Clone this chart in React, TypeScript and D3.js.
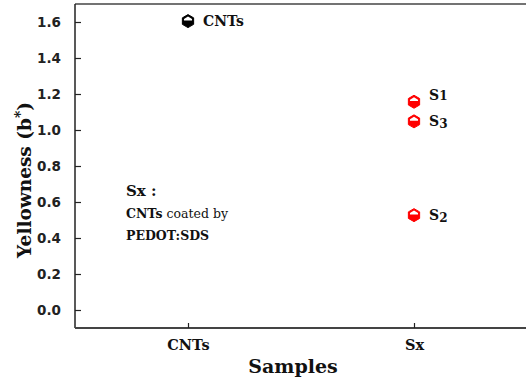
import React, { useRef, useEffect } from "react";
import * as d3 from "d3";

const CATEGORIES = ["CNTs", "Sx"];
const SAMPLE_LABELS = ["CNTs", "S1", "S3", "S2"];
const SAMPLE_CAT = ["CNTs", "Sx", "Sx", "Sx"];
const SAMPLE_VALUES = [1.605, 1.157, 1.048, 0.527];
const SAMPLE_COLORS = ["#000000", "#ff0000", "#ff0000", "#ff0000"];
const Y_TICKS = [0, 0.2, 0.4, 0.6, 0.8, 1.0, 1.2, 1.4, 1.6];

const SERIF = "'DejaVu Serif', 'Liberation Serif', serif";
const SANS = "'DejaVu Sans', sans-serif";

const App: React.FC = () => {
  const svgRef = useRef<SVGSVGElement | null>(null);

  useEffect(() => {
    if (!svgRef.current) return;
    const w = 526;
    const h = 380;
    const svg = d3.select(svgRef.current);
    svg.selectAll("*").remove();
    svg.attr("width", w).attr("height", h);

    const x = d3.scaleLinear().domain([0.5, 2.5]).range([75, 527]);
    const y = d3.scaleLinear().domain([-0.1, 1.7]).range([328, 4]);
    const xPos = (c: string) => x(CATEGORIES.indexOf(c) + 1);

    /* 框线 */
    svg.append("line")
      .attr("x1", 75).attr("x2", 527).attr("y1", y(1.7)).attr("y2", y(1.7))
      .attr("stroke", "#444").attr("stroke-width", 1.5);

    /* Y 轴 */
    const yAxis = d3.axisLeft(y).tickValues(Y_TICKS).tickSize(-6).tickPadding(10)
      .tickFormat((v) => d3.format(".1f")(v as number));
    svg.append("g")
      .attr("transform", `translate(75,0)`)
      .call(yAxis)
      .call((g) => g.select(".domain").attr("stroke", "#222").attr("stroke-width", 1.5)
        .attr("d", `M0,${y(1.7)}V${y(-0.1)}`))
      .call((g) => g.selectAll(".tick line").attr("stroke", "#222").attr("stroke-width", 1.2))
      .call((g) => g.selectAll(".tick text")
        .attr("fill", "#222").attr("font-family", SANS).attr("font-weight", "bold")
        .attr("font-size", "13.5px").attr("x", -14));

    /* X 轴 */
    const xAxis = d3.axisBottom(x).tickValues([1, 2]).tickSize(-5).tickPadding(10)
      .tickFormat((v) => CATEGORIES[(v as number) - 1]);
    svg.append("g")
      .attr("transform", `translate(0,${y(-0.1)})`)
      .call(xAxis)
      .call((g) => g.select(".domain").attr("stroke", "#444").attr("stroke-width", 2)
        .attr("d", `M75,0H527`))
      .call((g) => g.selectAll(".tick line").attr("stroke", "#222").attr("stroke-width", 1.2))
      .call((g) => g.selectAll(".tick text")
        .attr("fill", "#111").attr("font-family", SERIF).attr("font-weight", "bold")
        .attr("font-size", "14.5px").attr("dy", "0.85em"));

    /* 点 */
    const r = 6.5;
    const hex = d3.range(6).map((i) => {
      const a = (Math.PI / 3) * i - Math.PI / 2;
      return [r * Math.cos(a), r * Math.sin(a)];
    });
    const cap = `M${-r * 0.62},${-r * 0.1} L${-r * 0.62},${-r * 0.32} L0,${-r * 0.7} L${r * 0.62},${-r * 0.32} L${r * 0.62},${-r * 0.1} Z`;
    const pts = svg.append("g");
    SAMPLE_VALUES.forEach((v, i) => {
      const gx = pts.append("g")
        .attr("transform", `translate(${xPos(SAMPLE_CAT[i])},${y(v)})`);
      gx.append("path")
        .attr("d", "M" + hex.map((p) => p.join(",")).join("L") + "Z")
        .attr("fill", SAMPLE_COLORS[i])
        .attr("stroke", SAMPLE_COLORS[i]).attr("stroke-width", 1);
      gx.append("path").attr("d", cap).attr("fill", "#fff");
    });

    /* 点标签 */
    SAMPLE_LABELS.forEach((lab, i) => {
      const t = svg.append("text")
        .attr("x", xPos(SAMPLE_CAT[i]) + 15)
        .attr("y", y(SAMPLE_VALUES[i]) + (i === 0 ? 5 : i === 1 ? -2 : 5))
        .attr("font-family", SERIF).attr("font-weight", "bold")
        .attr("font-size", "14px").attr("fill", "#111");
      if (i === 0) {
        t.text(lab);
      } else {
        t.text(lab[0]);
        t.append("tspan").attr("font-size", "12px")
          .attr("dy", lab[1] === "1" ? 0 : 2).text(lab[1]);
      }
    });

    /* 注释 */
    svg.append("text").attr("x", 126).attr("y", 196)
      .attr("font-family", SERIF).attr("font-weight", "bold").attr("font-size", "15px")
      .attr("fill", "#111").text("Sx :");
    const t2 = svg.append("text").attr("x", 126).attr("y", 218)
      .attr("font-family", SERIF).attr("font-size", "12.5px").attr("fill", "#111");
    t2.append("tspan").attr("font-weight", "bold").text("CNTs");
    t2.append("tspan").text(" coated by");
    svg.append("text").attr("x", 126).attr("y", 240)
      .attr("font-family", SERIF).attr("font-weight", "bold").attr("font-size", "12.5px")
      .attr("fill", "#111").text("PEDOT:SDS");

    /* 轴标题 */
    svg.append("text").attr("x", 293).attr("y", 373).attr("text-anchor", "middle")
      .attr("font-family", SERIF).attr("font-weight", "bold").attr("font-size", "19px")
      .attr("fill", "#111").text("Samples");
    const yt = svg.append("text")
      .attr("transform", `translate(31,${180}) rotate(-90)`)
      .attr("text-anchor", "middle")
      .attr("font-family", SERIF).attr("font-weight", "bold").attr("font-size", "18.5px")
      .attr("fill", "#111");
    yt.append("tspan").text("Yellowness (b");
    yt.append("tspan").attr("dy", -6).attr("font-size", "14px").text("*");
    yt.append("tspan").attr("dy", 6).text(")");
  }, []);

  return <svg ref={svgRef} style={{ position: "absolute", left: 0, top: 0 }} />;
};

export default App;
